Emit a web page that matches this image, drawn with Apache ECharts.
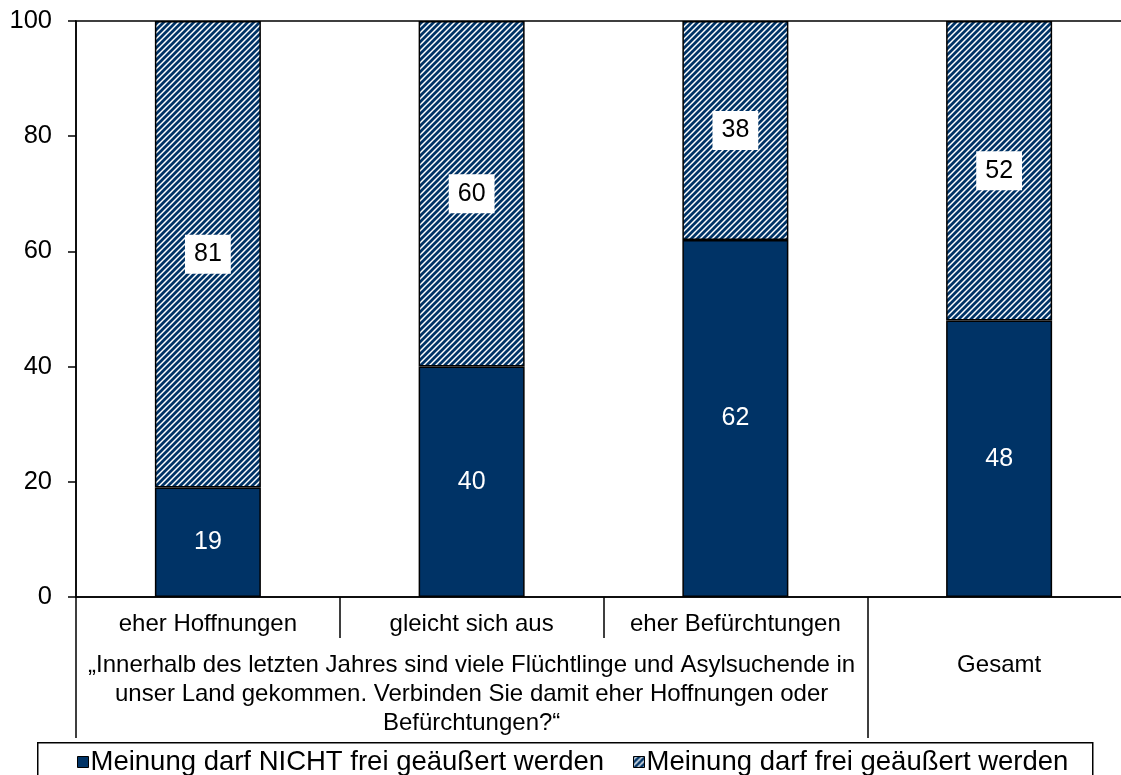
<!DOCTYPE html>
<html>
<head>
<meta charset="utf-8">
<script src="https://cdn.jsdelivr.net/npm/echarts@6/dist/echarts.min.js"></script>
<style>html,body{margin:0;padding:0;background:#fff;overflow:hidden}#c{width:1140px;height:775px}</style>
</head>
<body>
<div id="c"></div>
<script>
var categories = ['eher Hoffnungen', 'gleicht sich aus', 'eher Befürchtungen', ''];
var groupLabels = ['', '„Innerhalb des letzten Jahres sind viele Flüchtlinge und Asylsuchende in\nunser Land gekommen. Verbinden Sie damit eher Hoffnungen oder\nBefürchtungen?“', '', 'Gesamt'];
var seriesNames = ['Meinung darf NICHT frei geäußert werden', 'Meinung darf frei geäußert werden'];
var notFree = [19, 40, 62, 48];
var free = [81, 60, 38, 52];
var yTicks = [0, 20, 40, 60, 80, 100];

var FONT = 'Liberation Sans, Arial, sans-serif';
var DARK = '#003366';

function makeStripes() {
  var n = 6;
  var cv = document.createElement('canvas');
  cv.width = n; cv.height = n;
  var ctx = cv.getContext('2d');
  ctx.fillStyle = '#ffffff';
  ctx.fillRect(0, 0, n, n);
  ctx.strokeStyle = DARK;
  ctx.lineWidth = 2.8;
  ctx.beginPath();
  ctx.moveTo(-1, n + 1); ctx.lineTo(n + 1, -1);
  ctx.moveTo(-1, 1); ctx.lineTo(1, -1);
  ctx.moveTo(n - 1, n + 1); ctx.lineTo(n + 1, n - 1);
  ctx.stroke();
  return cv;
}
var stripe = { image: makeStripes(), repeat: 'repeat' };

var legendText = { fontSize: 27.5, color: '#000', fontFamily: FONT, padding: [0, 0, 0, -3] };

var chart = echarts.init(document.getElementById('c'), null, { renderer: 'canvas' });
chart.setOption({
  animation: false,
  textStyle: { fontFamily: FONT },
  grid: { left: 76, top: 21, width: 1055, bottom: 178, show: true, borderColor: '#000', borderWidth: 1.5, backgroundColor: 'transparent' },
  legend: [
    { data: [seriesNames[0]], left: 72, top: 743, icon: 'rect', itemWidth: 11, itemHeight: 11,
      textStyle: legendText, itemStyle: { borderColor: '#000', borderWidth: 1 } },
    { data: [seriesNames[1]], left: 628, top: 743, icon: 'rect', itemWidth: 11, itemHeight: 11,
      textStyle: legendText, itemStyle: { borderColor: '#000', borderWidth: 1 } }
  ],
  graphic: [
    { type: 'rect', left: 37, top: 742, shape: { width: 1055, height: 50 }, style: { fill: 'transparent', stroke: '#000', lineWidth: 1.5 }, z: 100 }
  ],
  xAxis: [
    {
      type: 'category', data: categories, position: 'bottom',
      axisLine: { lineStyle: { color: '#000', width: 1.5 } },
      axisTick: { show: true, length: 41, interval: 0, lineStyle: { color: '#000', width: 1.5 } },
      axisLabel: { interval: 0, margin: 15, fontSize: 24, color: '#000', fontFamily: FONT }
    },
    {
      type: 'category', data: groupLabels, position: 'bottom', offset: 0,
      axisLine: { show: false },
      axisTick: { show: true, length: 141, interval: function (i) { return i === 0 || i === 3; }, lineStyle: { color: '#000', width: 1.5 } },
      axisLabel: { interval: 0, margin: 54, fontSize: 24, lineHeight: 29, color: '#000', align: 'center', fontFamily: FONT }
    }
  ],
  yAxis: {
    type: 'value', min: 0, max: 100, interval: 20,
    axisLine: { show: true, lineStyle: { color: '#000', width: 1.5 } },
    axisTick: { show: true, length: 8, lineStyle: { color: '#000', width: 1.5 } },
    axisLabel: { margin: 24, fontSize: 25.5, color: '#000', fontFamily: FONT,
      formatter: function (v) { return yTicks.indexOf(v) >= 0 ? String(v) : ''; } },
    splitLine: { show: false }
  },
  series: [
    {
      name: seriesNames[0], type: 'bar', stack: 's', barWidth: 106, data: notFree,
      itemStyle: { color: DARK, borderColor: '#000', borderWidth: 1.5 },
      label: { show: true, position: 'inside', color: '#fff', fontSize: 25, fontFamily: FONT }
    },
    {
      name: seriesNames[1], type: 'bar', stack: 's', barWidth: 106, data: free,
      itemStyle: { color: stripe, borderColor: '#000', borderWidth: 1.5 },
      label: { show: true, position: 'inside', color: '#000', fontSize: 25, fontFamily: FONT,
        backgroundColor: '#fff', padding: [8, 9, 6, 9] }
    }
  ]
});
</script>
</body>
</html>
